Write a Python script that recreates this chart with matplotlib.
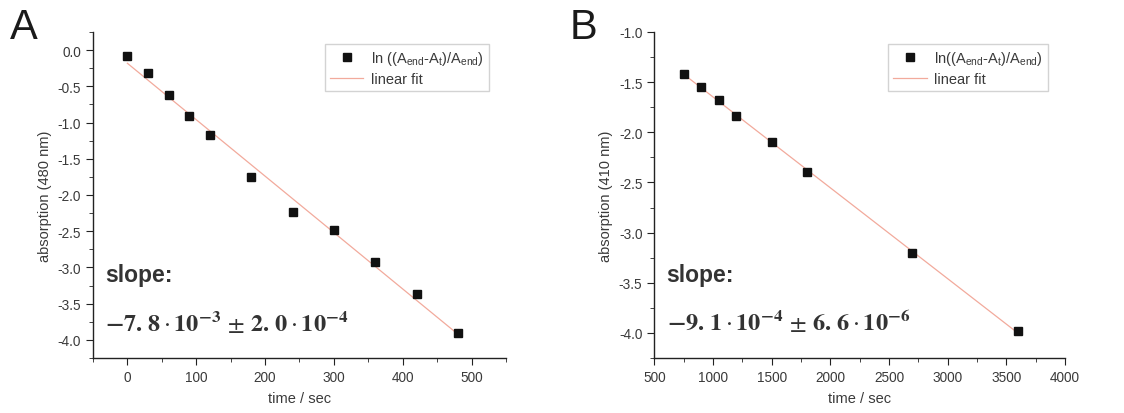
import numpy as np
from matplotlib import pyplot as plt
from matplotlib.ticker import MultipleLocator

# panel A: 480 nm
time_a = [0, 30, 60, 90, 120, 180, 240, 300, 360, 420, 480]
absorb_a = [-0.08, -0.32, -0.62, -0.91, -1.17, -1.75, -2.23, -2.48, -2.93, -3.37, -3.90]
# panel B: 410 nm
time_b = [750, 900, 1050, 1200, 1500, 1800, 2700, 3600]
absorb_b = [-1.415, -1.55, -1.675, -1.835, -2.10, -2.40, -3.20, -3.985]

slope_a = r"$\mathbf{-7.\,8}\cdot\mathbf{10^{-3}}\,\pm\,\mathbf{2.\,0}\cdot\mathbf{10^{-4}}$"
slope_b = r"$\mathbf{-9.\,1}\cdot\mathbf{10^{-4}}\,\pm\,\mathbf{6.\,6}\cdot\mathbf{10^{-6}}$"

plt.rcParams['font.family'] = ['Liberation Sans', 'DejaVu Sans']
plt.rcParams['mathtext.fontset'] = 'custom'
plt.rcParams['mathtext.rm'] = 'Liberation Sans'
plt.rcParams['mathtext.it'] = 'Liberation Sans'
plt.rcParams['mathtext.bf'] = 'Liberation Sans:bold'
plt.rcParams['xtick.direction'] = 'out'
plt.rcParams['ytick.direction'] = 'out'
plt.rcParams['xtick.major.size'] = 5.0
plt.rcParams['xtick.minor.size'] = 3.0
plt.rcParams['ytick.major.size'] = 5.0
plt.rcParams['ytick.minor.size'] = 3.0

fig = plt.figure(figsize=(11.24, 4.14), dpi=100)
ax1 = fig.add_axes([0.0827, 0.1329, 0.3675, 0.7874])
ax2 = fig.add_axes([0.5821, 0.1329, 0.3654, 0.7874])

txtcol = '#3a3a3a'
fitcol = '#f2aa9c'


def panel(ax, t, y, xlim, ylim, xmaj, ymaj, ylab, leglab, slope_txt, letter, lx):
    fit = np.polyfit(t, y, 1)
    tt = np.array([t[0], t[-1]])
    ax.plot(t, y, 's', color='#111111', markersize=5.5, label=leglab, zorder=3)
    ax.plot(tt, np.polyval(fit, tt), '-', color=fitcol, linewidth=0.9, label='linear fit')
    ax.set_xlim(xlim)
    ax.set_ylim(ylim)
    ax.xaxis.set_major_locator(MultipleLocator(xmaj))
    ax.xaxis.set_minor_locator(MultipleLocator(xmaj / 2))
    ax.yaxis.set_major_locator(MultipleLocator(ymaj))
    ax.yaxis.set_minor_locator(MultipleLocator(ymaj / 2))
    ax.yaxis.set_major_formatter(plt.FormatStrFormatter('%.1f'))
    for s in ['top', 'right']:
        ax.spines[s].set_visible(False)
    for s in ['left', 'bottom']:
        ax.spines[s].set_color('#222222')
        ax.spines[s].set_linewidth(1.0)
    ax.tick_params(which='both', colors='#222222', labelcolor=txtcol, labelsize=9.8)
    ax.set_xlabel('time / sec', fontsize=10.5, color=txtcol, labelpad=5)
    ax.set_ylabel(ylab, fontsize=10.5, color=txtcol, labelpad=4)
    leg = ax.legend(loc='upper right', bbox_to_anchor=(0.958, 0.963), fontsize=10.5,
                    frameon=True, fancybox=False, edgecolor='#c8c8c8',
                    handlelength=2.3, handletextpad=0.5, borderpad=0.35,
                    labelspacing=0.35, borderaxespad=0.0)
    for tx in leg.get_texts():
        tx.set_color(txtcol)
    ax.text(0.03, 0.235, 'slope:', transform=ax.transAxes, fontsize=16.5,
            fontweight='bold', color='#333333')
    ax.text(0.03, 0.085, slope_txt, transform=ax.transAxes, fontsize=17.5,
            color='#333333', math_fontfamily='stix')
    fig.text(lx, 0.905, letter, fontsize=30, color='#1a1a1a')


panel(ax1, time_a, absorb_a, (-50, 550), (-4.25, 0.25), 100, 0.5,
      'absorption (480 nm)',
      r'ln ((A$_\mathrm{end}$-A$_\mathrm{t}$)/A$_\mathrm{end}$)', slope_a, 'A', 0.009)
panel(ax2, time_b, absorb_b, (500, 4000), (-4.25, -1.0), 500, 0.5,
      'absorption (410 nm)',
      r'ln((A$_\mathrm{end}$-A$_\mathrm{t}$)/A$_\mathrm{end}$)', slope_b, 'B', 0.507)

fig.savefig('out.png', dpi=100)
